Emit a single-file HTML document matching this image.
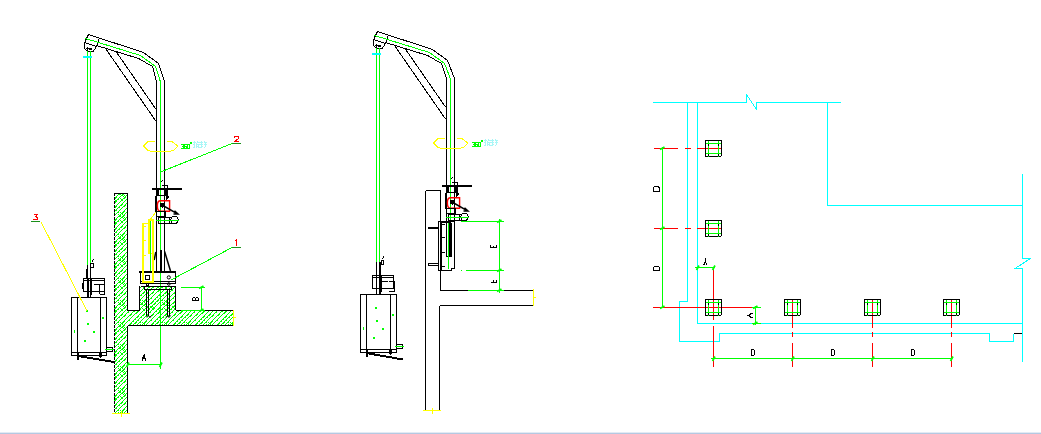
<!DOCTYPE html>
<html><head><meta charset="utf-8">
<style>
html,body{margin:0;padding:0;background:#fff;width:1041px;height:434px;overflow:hidden}
svg{display:block;position:absolute;left:0;top:0}
.bar{position:absolute;left:0;top:432px;width:1041px;height:1px;background:#e3eaf4}
.bar2{position:absolute;left:0;top:433px;width:1041px;height:1px;background:#b5c9e2}
</style></head><body>
<svg width="1041" height="434" viewBox="0 0 1041 434">
<defs>
<g id="col">
 <path d="M705.5,140.5H721.5V155.5L720.5,156.5H705.5Z" fill="none" stroke="#000"/>
 <path d="M708.5,141V157M718.5,141V157M706,143.5H721M706,153.5H721" stroke="#0f0"/>
 <path d="M708,144h1v2h-1zM718,144h1v2h-1zM708,154h1v2h-1zM718,154h1v2h-1z" fill="#000"/>
</g>
<pattern id="hatch" patternUnits="userSpaceOnUse" width="22" height="22"><path fill="#0f0" d="M0,0h1v1h-1zM0,4h1v1h-1zM0,8h1v1h-1zM0,13h1v1h-1zM0,17h1v1h-1zM0,18h1v1h-1zM0,21h1v1h-1zM1,3h1v1h-1zM1,7h1v1h-1zM1,12h1v1h-1zM1,13h1v1h-1zM1,16h1v1h-1zM1,17h1v1h-1zM1,20h1v1h-1zM2,2h1v1h-1zM2,3h1v1h-1zM2,6h1v1h-1zM2,11h1v1h-1zM2,15h1v1h-1zM2,19h1v1h-1zM3,1h1v1h-1zM3,5h1v1h-1zM3,10h1v1h-1zM3,11h1v1h-1zM3,14h1v1h-1zM3,15h1v1h-1zM3,18h1v1h-1zM4,0h1v1h-1zM4,1h1v1h-1zM4,4h1v1h-1zM4,5h1v1h-1zM4,9h1v1h-1zM4,13h1v1h-1zM4,14h1v1h-1zM4,17h1v1h-1zM5,0h1v1h-1zM5,2h1v1h-1zM5,3h1v1h-1zM5,4h1v1h-1zM5,8h1v1h-1zM5,9h1v1h-1zM5,12h1v1h-1zM5,16h1v1h-1zM5,21h1v1h-1zM6,2h1v1h-1zM6,3h1v1h-1zM6,7h1v1h-1zM6,8h1v1h-1zM6,11h1v1h-1zM6,12h1v1h-1zM6,15h1v1h-1zM6,20h1v1h-1zM6,21h1v1h-1zM7,1h1v1h-1zM7,6h1v1h-1zM7,10h1v1h-1zM7,14h1v1h-1zM7,19h1v1h-1zM8,0h1v1h-1zM8,1h1v1h-1zM8,5h1v1h-1zM8,9h1v1h-1zM8,13h1v1h-1zM8,14h1v1h-1zM8,16h1v1h-1zM8,18h1v1h-1zM9,4h1v1h-1zM9,8h1v1h-1zM9,9h1v1h-1zM9,12h1v1h-1zM9,17h1v1h-1zM9,18h1v1h-1zM9,21h1v1h-1zM10,0h1v1h-1zM10,3h1v1h-1zM10,7h1v1h-1zM10,11h1v1h-1zM10,14h1v1h-1zM10,16h1v1h-1zM10,17h1v1h-1zM10,18h1v1h-1zM10,20h1v1h-1zM11,1h1v1h-1zM11,2h1v1h-1zM11,6h1v1h-1zM11,7h1v1h-1zM11,10h1v1h-1zM11,15h1v1h-1zM11,19h1v1h-1zM12,1h1v1h-1zM12,2h1v1h-1zM12,5h1v1h-1zM12,6h1v1h-1zM12,9h1v1h-1zM12,14h1v1h-1zM12,15h1v1h-1zM12,16h1v1h-1zM12,18h1v1h-1zM12,19h1v1h-1zM13,0h1v1h-1zM13,4h1v1h-1zM13,8h1v1h-1zM13,13h1v1h-1zM13,14h1v1h-1zM13,17h1v1h-1zM13,18h1v1h-1zM13,20h1v1h-1zM14,0h1v1h-1zM14,3h1v1h-1zM14,7h1v1h-1zM14,8h1v1h-1zM14,12h1v1h-1zM14,13h1v1h-1zM14,16h1v1h-1zM14,17h1v1h-1zM14,19h1v1h-1zM14,21h1v1h-1zM15,2h1v1h-1zM15,6h1v1h-1zM15,7h1v1h-1zM15,11h1v1h-1zM15,15h1v1h-1zM15,20h1v1h-1zM15,21h1v1h-1zM16,1h1v1h-1zM16,5h1v1h-1zM16,10h1v1h-1zM16,14h1v1h-1zM16,19h1v1h-1zM17,0h1v1h-1zM17,1h1v1h-1zM17,4h1v1h-1zM17,9h1v1h-1zM17,13h1v1h-1zM17,18h1v1h-1zM18,3h1v1h-1zM18,4h1v1h-1zM18,8h1v1h-1zM18,12h1v1h-1zM18,17h1v1h-1zM18,20h1v1h-1zM18,21h1v1h-1zM19,2h1v1h-1zM19,7h1v1h-1zM19,11h1v1h-1zM19,12h1v1h-1zM19,16h1v1h-1zM19,17h1v1h-1zM19,20h1v1h-1zM19,21h1v1h-1zM20,0h1v1h-1zM20,1h1v1h-1zM20,6h1v1h-1zM20,7h1v1h-1zM20,10h1v1h-1zM20,15h1v1h-1zM20,16h1v1h-1zM20,19h1v1h-1zM20,20h1v1h-1zM21,0h1v1h-1zM21,1h1v1h-1zM21,5h1v1h-1zM21,6h1v1h-1zM21,9h1v1h-1zM21,14h1v1h-1zM21,15h1v1h-1zM21,18h1v1h-1zM21,21h1v1h-1z"/></pattern>
<g id="head">
 <path stroke="#000" fill="none" d="M88.5,34.5L143.5,52.5L158.5,63.5M96.5,45.5L138.5,58.5L152.5,66.5M88.5,34.5L85.5,40.5L84.5,43V48.5L87.5,51H93.5L96.5,46.5L98.5,40.5L99.5,38M84.5,42.5L96.5,46.5M104.5,47L156.5,122M116,51.5L156.5,110"/>
 <path stroke="#0f0" fill="none" d="M85.5,38.5L140.5,55.5L155.5,66.5"/>
 <circle cx="87.5" cy="48.5" r="1.3" fill="#000"/><circle cx="90.5" cy="49" r="1.3" fill="#000"/>
</g>
<g id="txt360">
 <path fill="#0f0" d="M181,144h1v1h-1zM182,144h1v1h-1zM183,144h1v1h-1zM183,145h1v1h-1zM182,146h1v1h-1zM183,146h1v1h-1zM183,147h1v1h-1zM181,148h1v1h-1zM182,148h1v1h-1zM183,148h1v1h-1zM184,144h1v1h-1zM185,144h1v1h-1zM186,144h1v1h-1zM184,145h1v1h-1zM184,146h1v1h-1zM185,146h1v1h-1zM186,146h1v1h-1zM184,147h1v1h-1zM186,147h1v1h-1zM184,148h1v1h-1zM185,148h1v1h-1zM186,148h1v1h-1zM187,144h1v1h-1zM188,144h1v1h-1zM189,144h1v1h-1zM187,145h1v1h-1zM189,145h1v1h-1zM187,146h1v1h-1zM189,146h1v1h-1zM187,147h1v1h-1zM189,147h1v1h-1zM187,148h1v1h-1zM188,148h1v1h-1zM189,148h1v1h-1zM190,142h1v1h-1zM191,142h1v1h-1zM190,143h1v1h-1zM191,143h1v1h-1z"/>
 <path fill="#a8f6f6" d="M194,141h1v1h-1zM197,141h1v1h-1zM193,142h1v1h-1zM194,142h1v1h-1zM195,142h1v1h-1zM197,142h1v1h-1zM198,142h1v1h-1zM199,142h1v1h-1zM194,143h1v1h-1zM196,143h1v1h-1zM193,144h1v1h-1zM194,144h1v1h-1zM196,144h1v1h-1zM197,144h1v1h-1zM198,144h1v1h-1zM199,144h1v1h-1zM194,145h1v1h-1zM196,145h1v1h-1zM198,145h1v1h-1zM194,146h1v1h-1zM196,146h1v1h-1zM197,146h1v1h-1zM198,146h1v1h-1zM193,147h1v1h-1zM194,147h1v1h-1zM196,147h1v1h-1zM198,147h1v1h-1zM199,147h1v1h-1zM201,141h1v1h-1zM204,141h1v1h-1zM200,142h1v1h-1zM201,142h1v1h-1zM202,142h1v1h-1zM204,142h1v1h-1zM205,142h1v1h-1zM206,142h1v1h-1zM201,143h1v1h-1zM205,143h1v1h-1zM200,144h1v1h-1zM201,144h1v1h-1zM202,144h1v1h-1zM204,144h1v1h-1zM205,144h1v1h-1zM206,144h1v1h-1zM201,145h1v1h-1zM205,145h1v1h-1zM201,146h1v1h-1zM202,146h1v1h-1zM205,146h1v1h-1zM200,147h1v1h-1zM201,147h1v1h-1zM204,147h1v1h-1z"/>
</g>
</defs>
<g shape-rendering="crispEdges" fill="none">
<g id="left">
 <use href="#head"/>
 
 <path stroke="#000" fill="none" d="M158.5,63.5L164.5,81.5V271M152.5,66.5L156.5,81.5V271"/>
 <path stroke="#0f0" fill="none" d="M155.5,66.5L160.5,82V224"/>
 <path stroke="#ff0" fill="none" d="M155,141.5H148L143.5,146L147.5,150L151,151.5H170L174,150L178,146L172.5,142L167,141.5"/>
 <rect x="152" y="188" width="30" height="2" fill="#000"/>
 <path stroke="#000" fill="none" d="M161.5,182L162.5,180.5M161.5,185.5H167.5V198M166,196L167.5,198.5L169,196"/>
 <path fill="#000" d="M157,190h2v5h-2zM164,190h3v5h-3z"/>
 <path stroke="#000" fill="none" d="M155.5,195.5H166.5V200M155.5,195.5V212"/>
 <path stroke="#f00" stroke-width="1.4" fill="none" shape-rendering="auto" d="M160.5,200.8H169.6V211.3H160.5Q157.4,211.3 157.4,206V205.5Q157.4,200.8 160.5,200.8Z"/>
 <circle cx="162.3" cy="205.3" r="2.4" fill="#000"/>
 <path stroke="#000" stroke-width="1.5" fill="none" shape-rendering="auto" d="M162,205L177.5,213.8M174.5,210.8L178,214L173.5,214"/>
 <path stroke="#000" fill="none" d="M156.5,211.5H165.5V216.5H156.5Z"/>
 <path stroke="#000" fill="none" d="M158.5,217.5H175V223.5H158.5ZM169.5,217.5V223.5"/>
 <circle cx="174.5" cy="220" r="3.6" stroke="#000" fill="#fff"/>
 <path stroke="#0f0" d="M156,220.5H179"/>

 
 <path stroke="#0f0" fill="none" d="M87.5,51V265M90.5,51V265"/>
 <path stroke="#0ff" stroke-width="2" d="M83,57H92"/>
 
 <path stroke="#000" fill="none" d="M87.5,265V297M90.5,265V297M88.5,278V297M90.5,263.5H93.5V267.5H90.5ZM92,261.5L93.5,259M83.5,278.5H104.5V291.5H83.5ZM91.5,278.5V294.5M83.5,280.5H104.5M93.5,284.5H99.5V293.5M99.5,284.5H104.5V294.5H99.5M82.5,283V289"/>
 <rect x="86" y="269" width="2" height="9" fill="#000"/>
 <path stroke="#000" fill="none" d="M71.5,297.5H106.5V355.5H71.5ZM77.5,297.5V359.5H78.5V355M100.5,297.5V358M71.5,352.5H106.5M106.5,347.5H112.5V351.5H106.5"/>
 <path fill="#000" d="M77,353h2v4h-2zM99,353h3v4h-3z"/>
 <path stroke="#0f0" d="M105,349.5H114"/>
 <path fill="#0f0" d="M86,310h2v2h-2zM102,317h2v2h-2zM87,323h2v2h-2zM93,331h2v2h-2zM84,340h2v2h-2zM74,330h1v3h-1z"/>

 <use href="#txt360"/>
 
 <path stroke="#0f0" fill="none" d="M160.5,224V369"/>
 <path stroke="#000" stroke-width="2" fill="none" d="M78,356L114,362"/>
 <!-- hatched wall -->
 <path fill="url(#hatch)" d="M114,193H127V310H140V287H175V310H233V325H127V413H114Z"/>
 <path stroke="#000" fill="none" stroke-dasharray="3,1" d="M114.5,193V413"/>
 <path stroke="#000" fill="none" d="M114.5,193.5H127.5V310.5H139.5M127.5,325.5V413M175.5,310.5H233M127.5,325.5H233"/>
 <path stroke="#000" fill="none" d="M139.5,286V310M175.5,286V310"/>
 <path stroke="#ff0" d="M112,413.5H130M233.5,310V326M121.5,411V417M233,317.5H236"/>
 <!-- base -->
 <rect x="139" y="271" width="37" height="2" fill="#000"/>
 <path stroke="#000" fill="none" d="M140.5,273V283.5H175.5V273M140.5,281.5H175.5M140.5,286.5H175.5"/>
 <path fill="#000" d="M160,250h2v21h-2z"/>
 <path stroke="#000" stroke-width="1.5" fill="none" shape-rendering="auto" d="M155.8,252L154.2,260M164.6,251.5L170.5,271"/>
 <path stroke="#000" fill="none" d="M145.5,275.5H149.5V279.5H145.5ZM146.5,283.5H148.5V285.5H146.5Z"/>
 <circle cx="168.8" cy="277.4" r="1.6" stroke="#000" fill="none" shape-rendering="auto"/>
 <circle cx="168.8" cy="284" r="1.3" stroke="#000" fill="none" shape-rendering="auto"/>
 <path stroke="#000" fill="none" d="M146.5,289V316M148.5,289V316M167.5,289V316M169.5,289V316M144.5,286.5V289.5H171.5V286.5"/>
 <path stroke="#000" fill="none" shape-rendering="auto" d="M147,317.5L148.5,315.5L150,317.5L151.5,315.5M166,317.5L167.5,315.5L169,317.5L170.5,315.5"/>
 <!-- yellow bar -->
 <path stroke="#ff0" fill="none" d="M142.5,223.5H148M142.5,223V282.5H153.5V252M143.5,224V282M152.5,253V282M143,281.5H153M144,226.5H146M144,240.5H146M144,255.5H146M148.5,219.5H153.5V253.5H148.5ZM149.5,220V253M152.5,220V253M149,220.5H153"/>
 <path stroke="#ff0" fill="none" d="M150.5,219L156,212"/>
 <path stroke="#0f0" fill="none" d="M150.5,221V271"/>
 <!-- leaders -->
 <path stroke="#0f0" fill="none" d="M160.5,172L232,143.5M171,280L232,247.5"/>
 <path stroke="#1a8f1a" fill="none" d="M232,143.5H241M232,247.5H241M31,221.5H40"/>
 <path stroke="#ff0" fill="none" d="M41,222L87,311"/>
 <!-- dims -->
 <path stroke="#0f0" fill="none" d="M181,287.5H205M201.5,287V310M181,310.5H205M127,364.5H161"/>

</g>
<g id="middle">
 <use href="#head" transform="translate(289,-3)"/>
 <g transform="translate(290,-3)">
 <path stroke="#000" fill="none" d="M157.5,63.5L164.5,81.5V224M151.5,66.5L156.5,81.5V224"/>
 <path stroke="#0f0" fill="none" d="M154.5,66.5L160.5,82V224"/>
 <path stroke="#ff0" fill="none" d="M155,141.5H148L143.5,146L147.5,150L151,151.5H170L174,150L178,146L172.5,142L167,141.5"/>
 <rect x="152" y="188" width="30" height="2" fill="#000"/>
 <path stroke="#000" fill="none" d="M161.5,182L162.5,180.5M161.5,185.5H167.5V198M166,196L167.5,198.5L169,196"/>
 <path fill="#000" d="M157,190h2v5h-2zM164,190h3v5h-3z"/>
 <path stroke="#000" fill="none" d="M155.5,195.5H166.5V200M155.5,195.5V212"/>
 <path stroke="#f00" stroke-width="1.4" fill="none" shape-rendering="auto" d="M160.5,200.8H169.6V211.3H160.5Q157.4,211.3 157.4,206V205.5Q157.4,200.8 160.5,200.8Z"/>
 <circle cx="162.3" cy="205.3" r="2.4" fill="#000"/>
 <path stroke="#000" stroke-width="1.5" fill="none" shape-rendering="auto" d="M162,205L177.5,213.8M174.5,210.8L178,214L173.5,214"/>
 <path stroke="#000" fill="none" d="M156.5,211.5H165.5V216.5H156.5Z"/>
 <path stroke="#000" fill="none" d="M158.5,217.5H175V223.5H158.5ZM169.5,217.5V223.5"/>
 <circle cx="174.5" cy="220" r="3.6" stroke="#000" fill="#fff"/>
 <path stroke="#0f0" d="M156,220.5H179"/>
</g>
 <g transform="translate(289,-3)">
 <path stroke="#0f0" fill="none" d="M87.5,51V265M90.5,51V265"/>
 <path stroke="#0ff" stroke-width="2" d="M83,57H92"/>
 
 <path stroke="#000" fill="none" d="M87.5,265V297M92.5,263.5H94.5V267.5H92.5ZM93.5,262L94.5,259.5M83.5,278.5H104.5V291.5H83.5ZM83.5,280.5H104.5M92.5,278.5V294.5M99.5,284.5H105.5V294.5H99.5M93,284.5H99"/>
 <rect x="90" y="265" width="2" height="32" fill="#000"/>
 <path stroke="#000" fill="none" d="M71.5,297.5H107.5V355.5H71.5ZM77.5,297.5V359.5H78.5V355M101.5,297.5V358M71.5,352.5H107.5M107.5,347.5H113.5V351.5H107.5"/>
 <path fill="#000" d="M77,353h2v4h-2zM100,353h3v4h-3z"/>
 <path stroke="#0f0" d="M106,349.5H115"/>
 <path fill="#0f0" d="M86,310h2v2h-2zM103,317h2v2h-2zM87,323h2v2h-2zM93,331h2v2h-2zM84,340h2v2h-2zM74,330h1v3h-1z"/>
</g>
 <use href="#txt360" transform="translate(291,-2)"/>
 
 <path stroke="#000" stroke-width="2" fill="none" d="M366,353L403,359.5"/>
 <path stroke="#000" fill="none" d="M425.5,190.5H440.5V290.5H533M440.5,190.5V212M425.5,190.5V410.5M439.5,305.5V410.5M439.5,305.5H533"/>
 <path stroke="#ff0" d="M423,410.5H441M533.5,289V306M432.5,408V414M533,297.5H536"/>
 <!-- wall gondola -->
 <path stroke="#000" fill="none" d="M438.5,221.5H454.5V268.5H451.5V270.5H438.5ZM441,222.5H451M446.5,223V256.5H451.5M442,224.5H445M442,237.5H445M442,252.5H445M442,266.5H445"/>
 <path fill="#000" d="M440,222h2v48h-2zM449,223h3v33h-3zM428,227h10v2h-10z"/>
 <path stroke="#000" fill="none" d="M428.5,263.5H438V265.5H428.5Z"/>
 <path stroke="#0f0" fill="none" d="M448.5,223V268.5"/>
 <!-- dims -->
 <path stroke="#0f0" fill="none" d="M461,221.5H504M461,270.5H462M466,270.5H504M468,290.5H504M499.5,219V293"/>

</g>

<g fill="none" stroke="#f00" stroke-width="1.1">
 <path d="M234.5,137.8V136.6H238.2V138.8L234.8,141.3H238.8"/>
 <path d="M236.8,239V245.6M235.2,240.8L236.8,239.6"/>
 <path d="M33.5,214.6H37.6L35.8,216.4L37.6,217.6V218.8L36.6,219.6H33.2"/>
</g>
<g fill="none" stroke="#000" stroke-width="1.1">
 <path d="M192.5,300.5H198.5V298.5L197.5,297.5H196.5L195.5,298.5L194.5,297.5H193.5L192.5,298.5ZM195.5,298.5V300"/>
 <path d="M142.6,361.5L143,357L144,355.5V358.5M142.8,358.5H145L146,360.5"/>
 <path d="M490.5,247.5H496.5M490.5,245V247.5M493.5,245.5V247.5M496.5,245V247.5"/>
 <path d="M490.5,282.5H496.5M493.5,280V282.5M496.5,280V282.5"/>
</g>

<g id="right">

 <path stroke="#0ff" d="M653,102.5H746.5V94.5L756.5,109.5V102.5H841"/>
 <path stroke="#0ff" d="M687.5,102V301.5H679.5V341.5H719.5V333.5H989.5V341.5H1013.5V333.5"/>
 <path stroke="#000" d="M1014,333.5H1022"/>
 <path stroke="#0ff" d="M697.5,102V323.5H1022.5"/>
 <path stroke="#0ff" d="M827.5,102V205.5H1022.5"/>
 <path stroke="#0ff" d="M1022.5,174V258.5H1030.5L1015,268.5H1022.5V362"/>
 <path stroke="#f00" d="M654,148.5H678M685,148.5H691M697,148.5H722"/>
 <path stroke="#f00" d="M654,228.5H678M685,228.5H691M697,228.5H722"/>
 <path stroke="#f00" d="M653,307.5H761"/>
 <path stroke="#f00" d="M713.5,268V320M713.5,326V367"/>
 <path stroke="#f00" d="M792.5,300V328M792.5,332V337M792.5,343V367"/>
 <path stroke="#f00" d="M872.5,300V328M872.5,332V337M872.5,343V367"/>
 <path stroke="#f00" d="M951.5,300V328M951.5,332V337M951.5,343V367"/>
 <use href="#col"/>
 <use href="#col" transform="translate(0,80)"/>
 <use href="#col" transform="translate(0,159)"/>
 <use href="#col" transform="translate(79,159)"/>
 <use href="#col" transform="translate(159,159)"/>
 <use href="#col" transform="translate(238,159)"/>
 <path stroke="#0f0" d="M662.5,147V307.5"/>
 <path stroke="#0f0" d="M711,358.5H952"/>
 <path stroke="#0f0" d="M695,267.5H715"/>
 <path stroke="#0f0" d="M755.5,306V325M752,307.5H761M752,323.5H761"/>
</g>
<g fill="none" stroke="#0f0" stroke-width="1.7" shape-rendering="auto">
 <path d="M712.5,361.0L715.0,356.5M791.5,361.0L794.0,356.5M871.5,361.0L874.0,356.5M950.5,361.0L953.0,356.5M696.5,270.0L699.0,265.5M712.5,270.0L715.0,265.5M126.5,367.0L129.0,362.5M159.5,367.0L162.0,362.5M660.0,149.5L664.5,147.0M660.0,229.5L664.5,227.0M660.0,308.5L664.5,306.0M753.0,308.5L757.5,306.0M753.0,324.5L757.5,322.0M497.0,222.5L501.5,220.0M497.0,271.5L501.5,269.0M497.0,291.5L501.5,289.0M199.0,288.5L203.5,286.0M199.0,311.5L203.5,309.0"/>
</g>
<g fill="none" stroke="#000" stroke-width="1" shape-rendering="crispEdges">
 <path d="M751.5,349.5V355.5H753.5L754.5,354.5V350.5L753.5,349.5Z"/>
 <path d="M831.5,349.5V355.5H833.5L834.5,354.5V350.5L833.5,349.5Z"/>
 <path d="M911.5,349.5V355.5H913.5L914.5,354.5V350.5L913.5,349.5Z"/>
 <path d="M653.5,191.5H659.5V188.5L658.5,186.5H654.5L653.5,187.5Z"/>
 <path d="M653.5,270.5H659.5V267.5L658.5,266.5H654.5L653.5,267.5Z"/>
</g>
<g fill="none" stroke="#000" stroke-width="1.2">
 <path d="M705.5,258V262L703.5,265M705.5,262L707,264.5"/>
 <path d="M746.5,315.5H749L751,313.5H753M749,315.5L751,317.5H753"/>
</g>

</g>
</svg>
<div class="bar"></div><div class="bar2"></div>
</body></html>
